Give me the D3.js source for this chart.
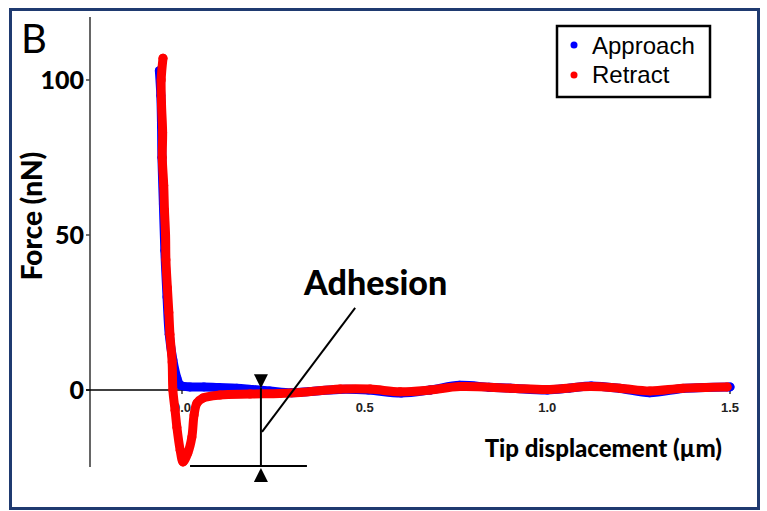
<!DOCTYPE html>
<html>
<head>
<meta charset="utf-8">
<script src="https://cdn.jsdelivr.net/npm/d3@7.9.0/dist/d3.min.js"></script>
<style>
  body { margin: 0; background: #fff; }
  svg { display: block; }
</style>
</head>
<body>
<svg id="chart" width="767" height="511"></svg>
<script>
// force curve, x in µm, force in nN
const approachX = [-0.062, -0.058, -0.056, -0.055, -0.051, -0.047, -0.041, -0.035, -0.025, -0.014, -0.005, 0.022, 0.06, 0.10, 0.15, 0.19, 0.24, 0.30, 0.35, 0.43, 0.51, 0.60, 0.68, 0.76, 0.84, 0.90, 1.00, 1.06, 1.12, 1.20, 1.28, 1.37, 1.43, 1.50];
const approachF = [103, 95, 85, 75, 60, 45, 30, 18, 9.7, 3.9, 1.6, 1.0, 1.0, 0.8, 0.6, 0.2, -0.3, -0.9, -0.5, 0.2, 0.0, -1.0, 0.0, 1.5, 0.9, 0.6, 0.0, 0.6, 1.3, 0.5, -0.9, 0.5, 0.8, 1.0];

const retractX = [-0.052, -0.057, -0.056, -0.053, -0.054, -0.050, -0.048, -0.045, -0.044, -0.040, -0.036, -0.033, -0.027, -0.025, -0.019, -0.014, -0.005, 0.003, 0.016, 0.027, 0.033, 0.041, 0.057, 0.104, 0.186, 0.268, 0.323, 0.433, 0.515, 0.597, 0.679, 0.761, 0.898, 1.007, 1.117, 1.199, 1.281, 1.371, 1.492];
const retractF = [107, 100, 92, 83, 75, 66, 58, 50, 42, 33, 25, 18, 9, 0, -6.5, -12, -19.4, -23.2, -20.3, -15.2, -8.1, -4.2, -2.6, -1.6, -1.3, -1.1, -0.8, 0.3, 0.3, -0.6, 0.0, 1.1, 0.6, 0.2, 1.1, 0.6, -0.3, 0.6, 1.0];

const xTicks = [0.0, 0.5, 1.0, 1.5];
const yTicks = [0, 50, 100];
const seriesNames = ['Approach', 'Retract'];
const seriesColors = ['#0000ff', '#ff0000'];

// adhesion bracket, in data units
const adhesionX = 0.216;
const adhesionTop = 0.6;
const adhesionBottom = -24.5;
const adhesionFloor = [0.022, 0.342];
const leaderFrom = [0.219, -13.5];
const leaderTo = [0.474, 26.5];

const svg = d3.select('#chart');

const x = d3.scaleLinear().domain([0, 1.5]).range([182, 730]);
const y = d3.scaleLinear().domain([0, 100]).range([390, 80]);

// outer frame
svg.append('rect')
  .attr('x', 10.5).attr('y', 9.5)
  .attr('width', 748).attr('height', 499)
  .attr('fill', 'none')
  .attr('stroke', '#1f3a70')
  .attr('stroke-width', 3);

svg.append('text')
  .attr('x', 21).attr('y', 53)
  .attr('font-family', 'Lato, sans-serif')
  .attr('font-size', 40)
  .attr('fill', '#000')
  .text('B');

// y axis
svg.append('line')
  .attr('x1', 90).attr('x2', 90)
  .attr('y1', 17).attr('y2', 467)
  .attr('stroke', '#666').attr('stroke-width', 2);

svg.selectAll('.ytick')
  .data(yTicks)
  .enter()
  .append('line')
  .attr('x1', 86).attr('x2', 90)
  .attr('y1', d => y(d)).attr('y2', d => y(d))
  .attr('stroke', '#444').attr('stroke-width', 1.5);

svg.selectAll('.ylab')
  .data(yTicks)
  .enter()
  .append('text')
  .attr('x', 84)
  .attr('y', d => y(d))
  .attr('dy', '0.36em')
  .attr('text-anchor', 'end')
  .attr('font-family', 'Lato, sans-serif')
  .attr('font-weight', 900)
  .attr('font-size', 25)
  .text(d => d);

svg.append('text')
  .attr('transform', 'translate(42,216) rotate(-90)')
  .attr('text-anchor', 'middle')
  .attr('font-family', 'Lato, sans-serif')
  .attr('font-weight', 900)
  .attr('font-size', 28)
  .text('Force (nN)');

// x axis
svg.append('line')
  .attr('x1', 86).attr('x2', x(1.5))
  .attr('y1', y(0)).attr('y2', y(0))
  .attr('stroke', '#000').attr('stroke-width', 1.5);

svg.selectAll('.xtick')
  .data(xTicks)
  .enter()
  .append('line')
  .attr('x1', d => x(d)).attr('x2', d => x(d))
  .attr('y1', y(0)).attr('y2', y(0) + 4)
  .attr('stroke', '#000').attr('stroke-width', 1.2);

svg.selectAll('.xlab')
  .data(xTicks)
  .enter()
  .append('text')
  .attr('x', d => x(d))
  .attr('y', 412)
  .attr('text-anchor', 'middle')
  .attr('font-family', '"Liberation Sans", Arial, sans-serif')
  .attr('font-weight', 'bold')
  .attr('font-size', 13)
  .attr('fill', '#222')
  .text(d => d.toFixed(1));

svg.append('text')
  .attr('x', 722).attr('y', 457)
  .attr('text-anchor', 'end')
  .attr('font-family', 'Lato, sans-serif')
  .attr('font-weight', 900)
  .attr('font-size', 24)
  .text('Tip displacement (µm)');

// curves
const line = d3.line()
  .x(d => x(d[0]))
  .y(d => y(d[1]))
  .curve(d3.curveCatmullRom.alpha(0.5));

const series = [
  d3.zip(approachX, approachF),
  d3.zip(retractX, retractF)
];

series.forEach((pts, i) => {
  svg.append('path')
    .datum(pts)
    .attr('d', line)
    .attr('fill', 'none')
    .attr('stroke', seriesColors[i])
    .attr('stroke-width', 9)
    .attr('stroke-linecap', 'round')
    .attr('stroke-linejoin', 'round');

  svg.selectAll('.dot' + i)
    .data(pts)
    .enter()
    .append('circle')
    .attr('cx', d => x(d[0]))
    .attr('cy', d => y(d[1]))
    .attr('r', 4.5)
    .attr('fill', seriesColors[i]);
});

// adhesion annotation
const bx = x(adhesionX);
svg.append('line')
  .attr('x1', x(adhesionFloor[0])).attr('x2', x(adhesionFloor[1]))
  .attr('y1', y(adhesionBottom)).attr('y2', y(adhesionBottom))
  .attr('stroke', '#000').attr('stroke-width', 2);

svg.append('line')
  .attr('x1', bx).attr('x2', bx)
  .attr('y1', y(adhesionTop)).attr('y2', y(adhesionBottom))
  .attr('stroke', '#000').attr('stroke-width', 2);

const ty = y(adhesionTop);
const by = y(adhesionBottom);
svg.append('path')
  .attr('d', `M${bx - 7},${ty - 14} L${bx + 7},${ty - 14} L${bx},${ty} Z`)
  .attr('fill', '#000');
svg.append('path')
  .attr('d', `M${bx - 7},${by + 16} L${bx + 7},${by + 16} L${bx},${by + 2} Z`)
  .attr('fill', '#000');

svg.append('line')
  .attr('x1', x(leaderFrom[0])).attr('y1', y(leaderFrom[1]))
  .attr('x2', x(leaderTo[0])).attr('y2', y(leaderTo[1]))
  .attr('stroke', '#000').attr('stroke-width', 2);

svg.append('text')
  .attr('x', 304).attr('y', 295)
  .attr('font-family', 'Lato, sans-serif')
  .attr('font-weight', 900)
  .attr('font-size', 34)
  .text('Adhesion');

// legend
const legend = svg.append('g');
legend.append('rect')
  .attr('x', 557).attr('y', 26)
  .attr('width', 153).attr('height', 71)
  .attr('fill', '#fff')
  .attr('stroke', '#000')
  .attr('stroke-width', 2.5);

seriesNames.forEach((name, i) => {
  legend.append('circle')
    .attr('cx', 574).attr('cy', 45 + i * 30)
    .attr('r', 3.5)
    .attr('fill', seriesColors[i]);
  legend.append('text')
    .attr('x', 592).attr('y', 54 + i * 29)
    .attr('font-family', '"Liberation Sans", Arial, sans-serif')
    .attr('font-size', 24)
    .text(name);
});
</script>
</body>
</html>
